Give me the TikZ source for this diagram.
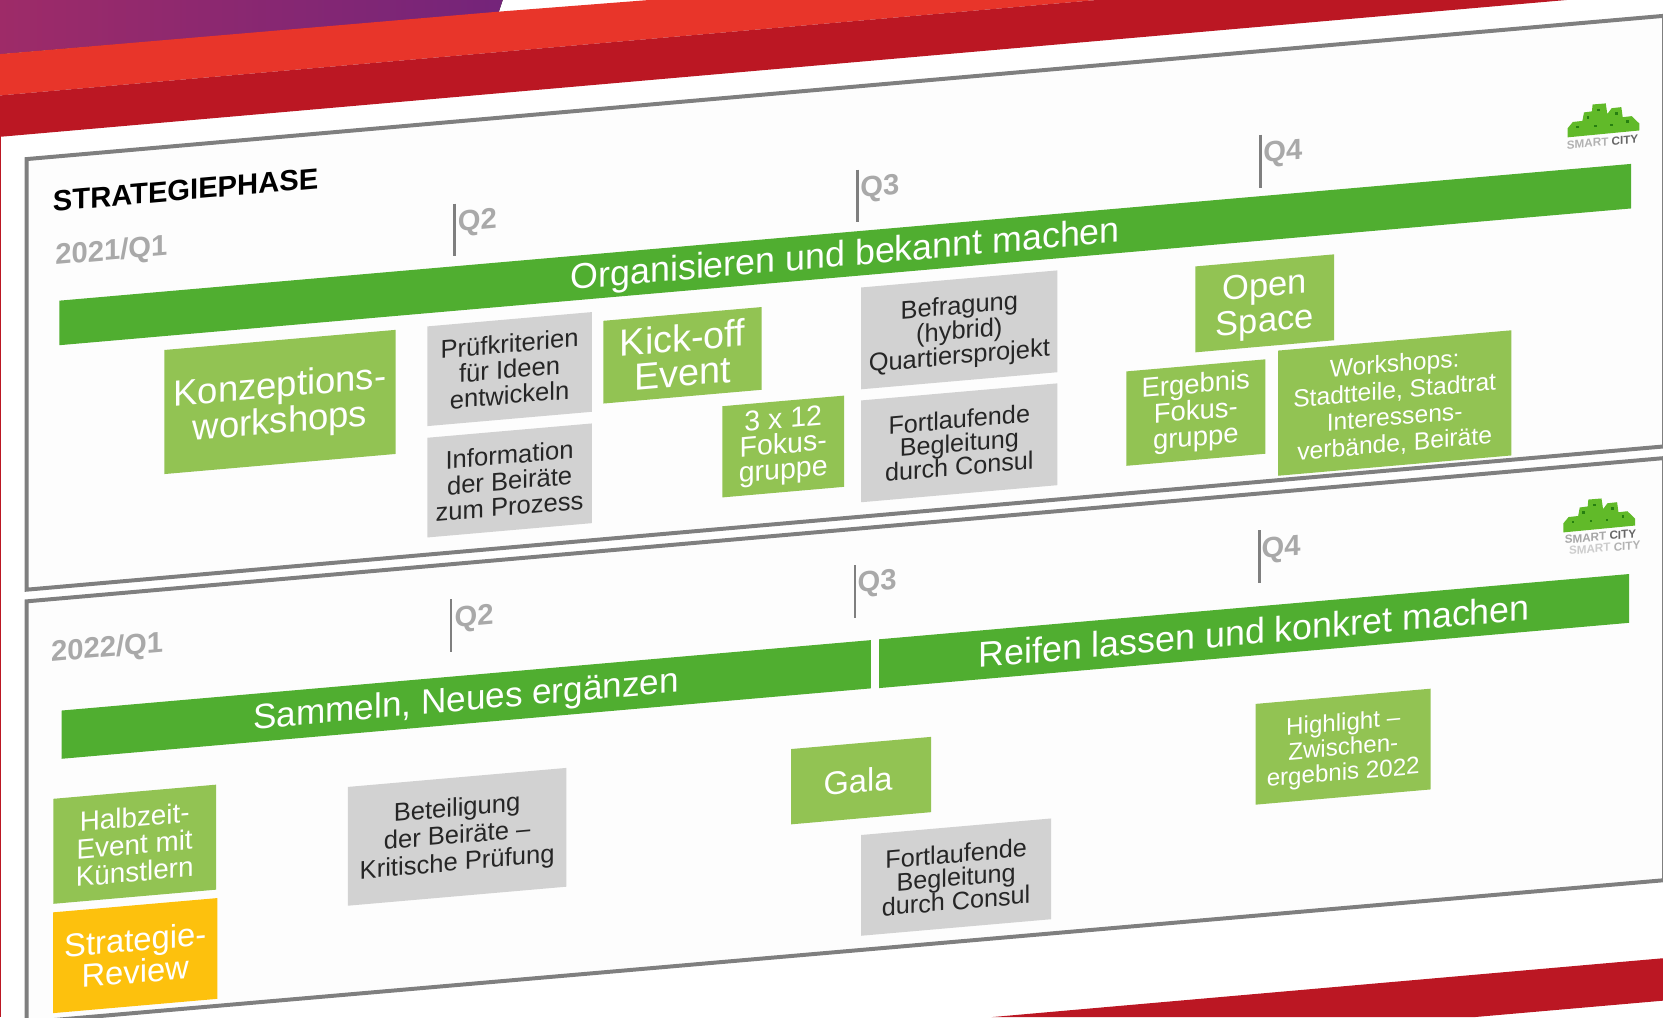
\documentclass[tikz,border=0pt]{standalone}
\usepackage{fontspec}
\setmainfont{Liberation Sans}
\usetikzlibrary{positioning}
\definecolor{stripepurpleL}{HTML}{9E2B68}
\definecolor{stripepurpleR}{HTML}{74247A}
\definecolor{stripered}{HTML}{E8352A}
\definecolor{stripedark}{HTML}{BB1723}
\definecolor{framegray}{HTML}{7F7F7F}
\definecolor{panelbg}{HTML}{FDFDFD}
\definecolor{quartergray}{HTML}{A9A9A9}
\definecolor{bargreen}{HTML}{50AE30}
\definecolor{tilegreen}{HTML}{92C353}
\definecolor{tilegray}{HTML}{D2D2D2}
\definecolor{tileyellow}{HTML}{FDC10D}
\tikzset{
    skewed/.style={yslant=0.087, transform shape, inner sep=0pt, outer sep=0pt, align=center},
    sz/.style 2 args={font=\fontsize{#1pt}{#2pt}\selectfont},
    wh/.style 2 args={minimum width=#1*0.8pt, minimum height=#2*0.8pt},
    sink/.style={text depth=#1},
    bar/.style={skewed, fill=bargreen, text=white},
    greentile/.style={skewed, fill=tilegreen, text=white},
    graytile/.style={skewed, fill=tilegray, text=black!85},
    quarter/.style={skewed, text=quartergray, font=\fontsize{22pt}{26pt}\selectfont\bfseries},
    tickline/.style={draw=framegray, line width=1.6pt},
    frameline/.style={draw=framegray, line width=3pt, line join=miter},
    logotext/.style={skewed, font=\fontsize{8.8pt}{10pt}\selectfont\bfseries},
    cityicon/.pic={
        \fill[bargreen!85!lime] (0,0) -- (0,-8.5) -- (5,-14.5) -- (14,-15.5) -- (15.5,-23.5) -- (23,-24.5) -- (23.6,-31)
            -- (36,-32) -- (37.5,-22) -- (41.6,-27.5) -- (50.7,-28.5) -- (52,-19) -- (60.4,-20) -- (67.7,-13) -- (67.7,-6.5) -- cycle;
        \foreach \wx/\wy in {8/-11, 18/-20, 28/-27, 45/-24, 55/-16, 25/-12, 40/-13}
            \fill[green!35!black, opacity=.6] (\wx,\wy) rectangle ++(2.5,2.5);
    }
}
\begin{document}
\begin{tikzpicture}[x=0.8pt, y=-0.8pt]
    \useasboundingbox (0,0) rectangle (1568,959);

    % Stripes
    \fill[left color=stripepurpleL, right color=stripepurpleR] (0,0) -- (474,0) -- (470,12) -- (0,51) -- cycle;
    \fill[stripered] (0,51) -- (470,11) -- (612,0) -- (1034,0) -- (0,90) -- cycle;
    \fill[stripedark] (0,90) -- (1034,0) -- (1477,0) -- (0,129) -- cycle;
    \fill[stripedark] (0,129) rectangle (1,959);
    \fill[stripedark] (935,959) -- (1568,903.5) -- (1568,943.5) -- (1390,959) -- cycle;

    % Panels
    \fill[panelbg] (25,150) -- (1567,15) -- (1567,421) -- (25,556) -- cycle;
    \fill[panelbg] (25,567) -- (1567,432) -- (1567,830) -- (25,964) -- cycle;
    \draw[frameline] (1568,15) -- (25,150) -- (25,556) -- (1568,421);
    \draw[frameline] (1568,432) -- (25,567) -- (25,964) -- (1568,830);
    \draw[framegray, line width=0.6pt] (1567,15) -- (1567,421);
    \draw[framegray, line width=0.6pt] (1567,432) -- (1567,830);

    % Logos
    \pic (logoA) at (1478,129.5) {cityicon};
    \pic (logoB) at (1474,502) {cityicon};
    \node[logotext] (logoAtext) at (1511,134) {\textcolor{black!30}{SMART} \textcolor{black!60}{CITY}};
    \node[logotext] (logoBtext) at (1509,506) {\textcolor{black!35}{SMART} \textcolor{black!60}{CITY}};
    \node[logotext] (logoBghost) at (1513,516.5) {\textcolor{black!20}{SMART} \textcolor{black!30}{CITY}};

    % Titles
    \node[skewed, font=\fontsize{22pt}{26pt}\selectfont\bfseries] (title) at (175,179) {STRATEGIEPHASE};
    \node[quarter] (yearA) at (105,238) {2021/Q1};
    \node[quarter] (yearB) at (101,612) {2022/Q1};

    % Quarters
    \draw[tickline] (428.5,192) -- (428.5,241);
    \draw[tickline] (808.5,160) -- (808.5,209);
    \draw[tickline] (1188.5,127) -- (1188.5,177);
    \draw[tickline] (425.5,565) -- (425.5,615);
    \draw[tickline] (806.5,533) -- (806.5,583);
    \draw[tickline] (1187.5,500) -- (1187.5,550);
    \node[quarter] (qAtwo) at (450,210) {Q2};
    \node[quarter] (qAthree) at (829.5,177.5) {Q3};
    \node[quarter] (qAfour) at (1209.5,145) {Q4};
    \node[quarter] (qBtwo) at (447,583) {Q2};
    \node[quarter] (qBthree) at (827,550) {Q3};
    \node[quarter] (qBfour) at (1208,518) {Q4};

    % Bars
    \node[bar, wh={1482}{42}, sz={27}{30}, sink=2.4pt] (organize) at (797,240) {Organisieren und bekannt machen};
    \node[bar, wh={763}{45.5}, sz={26.5}{30}, sink=2.4pt] (collect) at (439.5,659.5) {Sammeln, Neues ergänzen};
    \node[bar, wh={707}{46}, sz={27}{30}] (mature) at (1182.5,595) {Reifen lassen und konkret machen};

    % Upper tiles
    \node[greentile, wh={218}{117}, sz={27.5}{27}, sink=-2.2pt] (concept) at (264,379) {Konzeptions-\\workshops};
    \node[graytile, wh={155}{94}, sz={19.3}{19.4}] (criteria) at (480.5,348) {Prüfkriterien\\für Ideen\\entwickeln};
    \node[graytile, wh={155}{94}, sz={19.3}{19.4}] (inform) at (480.5,453) {Information\\der Beiräte\\zum Prozess};
    \node[greentile, wh={149}{78}, sz={28.5}{26.5}] (kickoff) at (643.5,335) {Kick-off\\Event};
    \node[greentile, wh={115}{86}, sz={21.5}{19.2}] (focus) at (738.5,421) {3 x 12\\Fokus-\\gruppe};
    \node[graytile, wh={185}{96}, sz={19.2}{17}, sink=-2.4pt] (survey) at (904.5,311) {Befragung\\(hybrid)\\Quartiersprojekt};
    \node[graytile, wh={185}{96}, sz={19}{17.8}] (consulA) at (904.5,417.5) {Fortlaufende\\Begleitung\\durch Consul};
    \node[greentile, wh={131}{81}, sz={26}{26.4}, sink=1.5pt] (openspace) at (1192.5,286) {Open\\Space};
    \node[greentile, wh={131}{89}, sz={20.7}{20}] (result) at (1127.5,389) {Ergebnis\\Fokus-\\gruppe};
    \node[greentile, wh={220}{118}, sz={18.6}{20}, sink=-0.4pt] (workshops) at (1315,380) {Workshops:\\Stadtteile, Stadtrat\\Interessens-\\verbände, Beiräte};

    % Lower tiles
    \node[greentile, wh={153.5}{99}, sz={21}{20.6}] (halftime) at (127,796) {Halbzeit-\\Event mit\\Künstlern};
    \node[skewed, fill=tileyellow, text=white, wh={155}{95}, sz={24.7}{23}] (review) at (127.5,901) {Strategie-\\Review};
    \node[graytile, wh={206}{112}, sz={19.3}{20.5}] (advisory) at (431,789) {Beteiligung\\der Beiräte --\\Kritische Prüfung};
    \node[greentile, wh={132}{71}, sz={24.6}{28}, sink=-3.2pt] (gala) at (812,736) {\hspace*{-4.8pt}Gala};
    \node[graytile, wh={179}{95}, sz={19}{17.8}] (consulB) at (901.5,827) {Fortlaufende\\Begleitung\\durch Consul};
    \node[greentile, wh={165}{95}, sz={18.2}{18.8}, sink=-1pt] (highlight) at (1266.5,704) {Highlight --\\Zwischen-\\ergebnis 2022};
\end{tikzpicture}
\end{document}
